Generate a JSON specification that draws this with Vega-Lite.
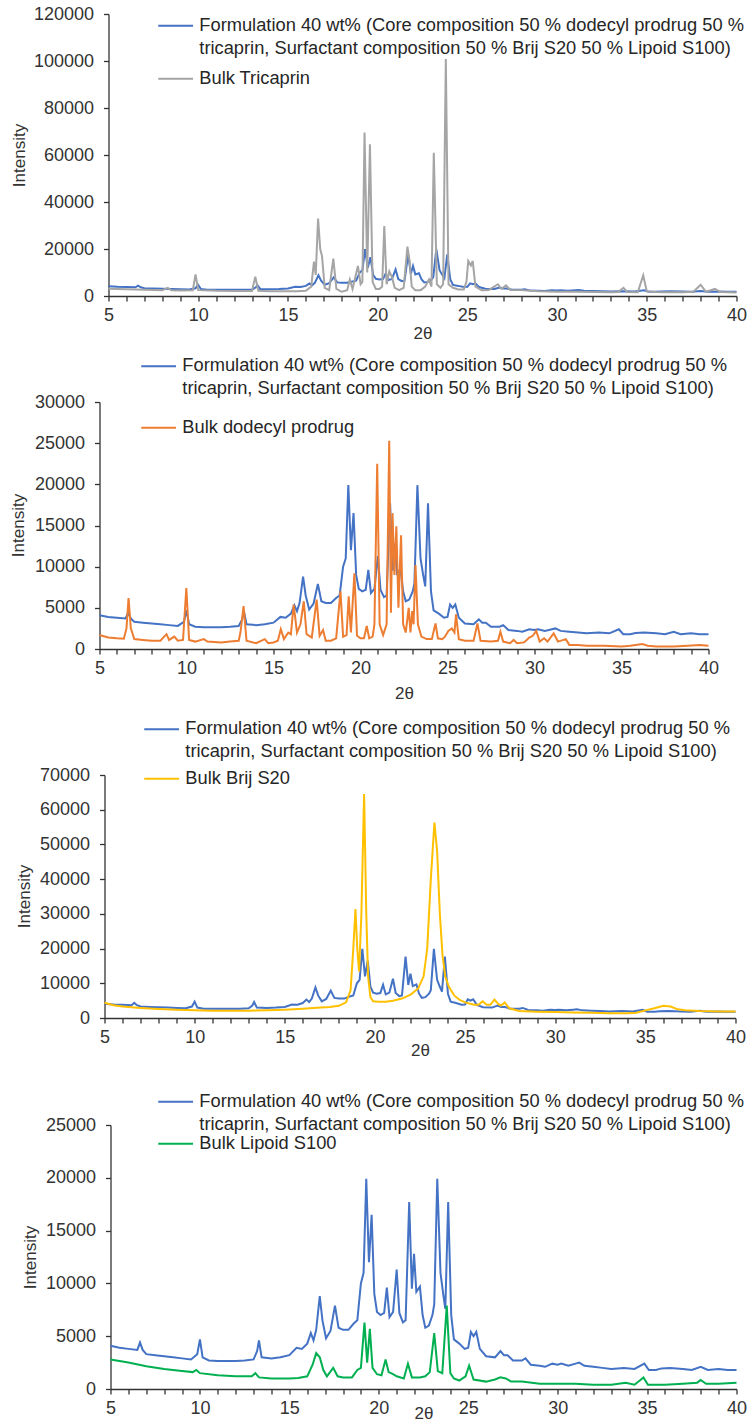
{
"$schema": "https://vega.github.io/schema/vega-lite/v6.json",
"padding": {"left": 9.5, "top": 5, "right": 0, "bottom": 0},
"background": "white",
"config": {
 "view": {"stroke": null},
 "font": "Liberation Sans",
 "axis": {"labelFont": "Liberation Sans", "titleFont": "Liberation Sans", "labelFontSize": 18, "titleFontSize": 17, "titleFontWeight": "normal", "labelColor": "#333333", "titleColor": "#333333", "domainColor": "#333333", "tickColor": "#333333", "grid": false, "tickSize": 5, "domainWidth": 1.3, "tickWidth": 1.3, "labelFlush": false, "labelOverlap": false},
 "legend": {"symbolType": "M-2.9,0H2.9", "symbolSize": 144, "symbolStrokeWidth": 2.5, "labelFont": "Liberation Sans", "labelFontSize": 18.3, "labelColor": "#262626", "labelLimit": 0, "padding": 0, "labelOffset": 14.5, "rowPadding": 4, "orient": "none"},
 "line": {"strokeWidth": 2}
},
"datasets": {
 "form": [{"t":5,"i":4100},{"t":5.5,"i":3900},{"t":6,"i":3800},{"t":6.5,"i":3700},{"t":6.65,"i":4400},{"t":6.8,"i":3700},{"t":7,"i":3300},{"t":7.5,"i":3200},{"t":8,"i":3100},{"t":8.5,"i":3000},{"t":9,"i":2900},{"t":9.5,"i":2800},{"t":9.85,"i":3300},{"t":10,"i":4700},{"t":10.15,"i":3000},{"t":10.5,"i":2700},{"t":11,"i":2650},{"t":11.5,"i":2650},{"t":12,"i":2650},{"t":12.5,"i":2700},{"t":13,"i":2800},{"t":13.2,"i":3600},{"t":13.3,"i":4600},{"t":13.45,"i":3000},{"t":14,"i":2900},{"t":14.5,"i":3000},{"t":15,"i":3200},{"t":15.4,"i":3900},{"t":15.7,"i":3800},{"t":16,"i":4300},{"t":16.2,"i":5300},{"t":16.35,"i":4600},{"t":16.5,"i":5600},{"t":16.7,"i":8800},{"t":16.85,"i":6500},{"t":17.05,"i":4800},{"t":17.3,"i":5500},{"t":17.55,"i":7900},{"t":17.75,"i":5800},{"t":18,"i":5600},{"t":18.3,"i":5600},{"t":18.6,"i":6200},{"t":18.8,"i":6500},{"t":19,"i":10000},{"t":19.15,"i":11000},{"t":19.3,"i":19900},{"t":19.45,"i":12000},{"t":19.6,"i":16500},{"t":19.75,"i":9000},{"t":19.9,"i":7300},{"t":20.1,"i":7000},{"t":20.3,"i":7200},{"t":20.45,"i":9600},{"t":20.6,"i":6800},{"t":20.8,"i":7300},{"t":21.0,"i":11300},{"t":21.15,"i":7200},{"t":21.35,"i":6300},{"t":21.5,"i":6500},{"t":21.7,"i":17700},{"t":21.85,"i":9500},{"t":21.97,"i":12800},{"t":22.1,"i":9200},{"t":22.3,"i":9700},{"t":22.45,"i":7000},{"t":22.6,"i":5800},{"t":22.8,"i":6000},{"t":23.0,"i":7000},{"t":23.1,"i":8000},{"t":23.27,"i":19900},{"t":23.45,"i":11000},{"t":23.6,"i":9000},{"t":23.72,"i":7600},{"t":23.88,"i":17700},{"t":24.05,"i":7000},{"t":24.2,"i":4700},{"t":24.5,"i":4300},{"t":24.8,"i":3800},{"t":25.0,"i":3900},{"t":25.15,"i":5400},{"t":25.3,"i":5000},{"t":25.45,"i":5400},{"t":25.65,"i":3800},{"t":26,"i":3100},{"t":26.5,"i":3000},{"t":26.8,"i":3600},{"t":27.0,"i":3200},{"t":27.2,"i":3200},{"t":27.5,"i":2700},{"t":28.0,"i":2700},{"t":28.2,"i":2900},{"t":28.5,"i":2300},{"t":29,"i":2200},{"t":29.3,"i":2100},{"t":29.7,"i":2400},{"t":30.0,"i":2300},{"t":30.2,"i":2400},{"t":30.6,"i":2200},{"t":31.0,"i":2400},{"t":31.2,"i":2500},{"t":31.5,"i":2200},{"t":32,"i":2100},{"t":32.5,"i":2000},{"t":33,"i":1900},{"t":33.7,"i":2000},{"t":34.3,"i":1900},{"t":34.85,"i":2400},{"t":35.1,"i":1800},{"t":35.5,"i":1800},{"t":35.8,"i":1950},{"t":36.3,"i":2000},{"t":37,"i":1900},{"t":37.5,"i":1800},{"t":38,"i":2100},{"t":38.4,"i":1800},{"t":39,"i":1900},{"t":39.5,"i":1800},{"t":40,"i":1800}],
 "tri": [{"t":5,"i":3100},{"t":6,"i":2900},{"t":7,"i":2700},{"t":8,"i":2500},{"t":8.3,"i":3500},{"t":8.5,"i":2400},{"t":9,"i":2300},{"t":9.7,"i":2400},{"t":9.85,"i":9200},{"t":10.0,"i":2500},{"t":11,"i":2200},{"t":12,"i":2100},{"t":13,"i":2100},{"t":13.18,"i":8200},{"t":13.35,"i":2200},{"t":14,"i":2000},{"t":15,"i":2000},{"t":15.5,"i":2000},{"t":16,"i":2200},{"t":16.3,"i":4000},{"t":16.45,"i":14600},{"t":16.55,"i":9000},{"t":16.68,"i":33000},{"t":16.8,"i":20000},{"t":16.9,"i":17000},{"t":17.05,"i":3500},{"t":17.3,"i":2500},{"t":17.53,"i":15900},{"t":17.7,"i":3000},{"t":18,"i":1800},{"t":18.3,"i":2500},{"t":18.45,"i":7000},{"t":18.6,"i":3000},{"t":18.9,"i":12800},{"t":19.05,"i":5000},{"t":19.15,"i":6000},{"t":19.27,"i":69600},{"t":19.42,"i":10000},{"t":19.57,"i":64600},{"t":19.72,"i":6000},{"t":19.9,"i":3000},{"t":20.1,"i":3000},{"t":20.25,"i":4000},{"t":20.37,"i":29800},{"t":20.5,"i":5000},{"t":20.65,"i":10500},{"t":20.8,"i":8000},{"t":20.95,"i":3500},{"t":21.2,"i":2500},{"t":21.45,"i":3500},{"t":21.66,"i":21000},{"t":21.78,"i":15000},{"t":21.9,"i":4000},{"t":22.1,"i":2500},{"t":22.4,"i":2500},{"t":22.65,"i":4000},{"t":22.86,"i":7000},{"t":23.0,"i":4000},{"t":23.13,"i":61000},{"t":23.3,"i":5000},{"t":23.5,"i":3500},{"t":23.65,"i":5000},{"t":23.8,"i":100800},{"t":23.95,"i":5000},{"t":24.2,"i":3500},{"t":24.5,"i":2800},{"t":24.8,"i":2800},{"t":24.95,"i":6000},{"t":25.05,"i":14900},{"t":25.2,"i":13000},{"t":25.3,"i":14900},{"t":25.45,"i":4000},{"t":25.8,"i":2500},{"t":26.2,"i":2600},{"t":26.7,"i":5000},{"t":26.9,"i":3000},{"t":27.15,"i":4500},{"t":27.4,"i":2600},{"t":28,"i":2500},{"t":28.5,"i":2200},{"t":29,"i":2000},{"t":30,"i":1800},{"t":31,"i":1800},{"t":32,"i":1700},{"t":33,"i":1600},{"t":33.4,"i":1700},{"t":33.7,"i":3500},{"t":33.9,"i":1700},{"t":34.5,"i":1600},{"t":34.8,"i":8800},{"t":35.0,"i":2000},{"t":35.5,"i":1700},{"t":36,"i":1600},{"t":37,"i":1600},{"t":37.6,"i":1800},{"t":38,"i":4800},{"t":38.3,"i":1800},{"t":38.8,"i":3000},{"t":39.1,"i":1700},{"t":40,"i":1500}],
 "dod": [{"t":5,"i":1700},{"t":5.5,"i":1400},{"t":6,"i":1300},{"t":6.4,"i":1250},{"t":6.55,"i":2500},{"t":6.67,"i":6200},{"t":6.8,"i":2500},{"t":7,"i":1200},{"t":7.5,"i":1100},{"t":8,"i":1000},{"t":8.5,"i":1000},{"t":8.85,"i":1800},{"t":9.0,"i":1100},{"t":9.3,"i":1500},{"t":9.5,"i":1000},{"t":9.8,"i":1100},{"t":9.99,"i":7400},{"t":10.15,"i":1100},{"t":10.5,"i":900},{"t":11,"i":1200},{"t":11.2,"i":900},{"t":12,"i":800},{"t":12.5,"i":900},{"t":13.0,"i":1000},{"t":13.1,"i":2000},{"t":13.28,"i":5200},{"t":13.45,"i":1000},{"t":14,"i":700},{"t":14.5,"i":1200},{"t":14.7,"i":700},{"t":15,"i":800},{"t":15.25,"i":1000},{"t":15.42,"i":2400},{"t":15.6,"i":1200},{"t":15.85,"i":2000},{"t":16.0,"i":1800},{"t":16.16,"i":5400},{"t":16.35,"i":2000},{"t":16.55,"i":3000},{"t":16.74,"i":5800},{"t":16.9,"i":1800},{"t":17.2,"i":1400},{"t":17.48,"i":6000},{"t":17.65,"i":1600},{"t":17.85,"i":2300},{"t":18.0,"i":1000},{"t":18.3,"i":1000},{"t":18.6,"i":1300},{"t":18.85,"i":7000},{"t":19.0,"i":1500},{"t":19.2,"i":1700},{"t":19.32,"i":6400},{"t":19.45,"i":2000},{"t":19.65,"i":9200},{"t":19.8,"i":1600},{"t":20.0,"i":1300},{"t":20.2,"i":1300},{"t":20.36,"i":2800},{"t":20.5,"i":1300},{"t":20.7,"i":1500},{"t":20.8,"i":3000},{"t":20.96,"i":22500},{"t":21.1,"i":3000},{"t":21.3,"i":1700},{"t":21.5,"i":3000},{"t":21.65,"i":25300},{"t":21.75,"i":4400},{"t":21.84,"i":16500},{"t":21.95,"i":9000},{"t":22.06,"i":14900},{"t":22.18,"i":5000},{"t":22.33,"i":13800},{"t":22.45,"i":3000},{"t":22.6,"i":2000},{"t":22.77,"i":5000},{"t":22.87,"i":2000},{"t":22.97,"i":4600},{"t":23.05,"i":3000},{"t":23.16,"i":10200},{"t":23.3,"i":3000},{"t":23.5,"i":1500},{"t":23.8,"i":1200},{"t":24.1,"i":1200},{"t":24.31,"i":3100},{"t":24.45,"i":1300},{"t":24.7,"i":1200},{"t":24.85,"i":1500},{"t":25.05,"i":2200},{"t":25.25,"i":2500},{"t":25.4,"i":2000},{"t":25.49,"i":4200},{"t":25.65,"i":1200},{"t":26,"i":1000},{"t":26.5,"i":1000},{"t":26.72,"i":3100},{"t":26.9,"i":1000},{"t":27.5,"i":900},{"t":27.9,"i":1000},{"t":28.04,"i":2100},{"t":28.2,"i":900},{"t":28.6,"i":700},{"t":28.8,"i":1100},{"t":29.0,"i":700},{"t":29.4,"i":800},{"t":29.7,"i":1400},{"t":29.9,"i":1600},{"t":30.1,"i":2200},{"t":30.3,"i":900},{"t":30.55,"i":1300},{"t":30.75,"i":900},{"t":31.1,"i":1900},{"t":31.35,"i":900},{"t":31.8,"i":1200},{"t":32.0,"i":500},{"t":32.5,"i":500},{"t":33,"i":400},{"t":34,"i":400},{"t":35,"i":300},{"t":35.5,"i":400},{"t":36.2,"i":600},{"t":36.5,"i":400},{"t":37,"i":300},{"t":38,"i":300},{"t":38.8,"i":400},{"t":39.5,"i":500},{"t":40,"i":400}],
 "brij": [{"t":5,"i":4400},{"t":5.5,"i":3700},{"t":6,"i":3300},{"t":7,"i":2900},{"t":8,"i":2600},{"t":9,"i":2400},{"t":10,"i":2200},{"t":11,"i":2100},{"t":12,"i":2100},{"t":13,"i":2100},{"t":14,"i":2200},{"t":15,"i":2400},{"t":16,"i":2700},{"t":17,"i":3000},{"t":17.5,"i":3200},{"t":18,"i":3500},{"t":18.4,"i":4500},{"t":18.65,"i":8000},{"t":18.8,"i":20000},{"t":18.92,"i":31400},{"t":19.02,"i":20000},{"t":19.12,"i":13400},{"t":19.25,"i":30000},{"t":19.4,"i":64500},{"t":19.52,"i":30000},{"t":19.62,"i":12000},{"t":19.75,"i":6000},{"t":19.9,"i":4800},{"t":20.2,"i":4700},{"t":20.6,"i":4700},{"t":21,"i":5000},{"t":21.5,"i":5600},{"t":22,"i":6800},{"t":22.4,"i":8500},{"t":22.7,"i":12000},{"t":22.9,"i":20000},{"t":23.1,"i":40000},{"t":23.3,"i":56300},{"t":23.45,"i":48000},{"t":23.6,"i":30000},{"t":23.75,"i":18000},{"t":23.9,"i":12000},{"t":24.1,"i":9000},{"t":24.4,"i":6500},{"t":24.7,"i":5200},{"t":25,"i":4500},{"t":25.5,"i":3800},{"t":25.75,"i":3800},{"t":25.97,"i":4800},{"t":26.2,"i":3800},{"t":26.4,"i":3800},{"t":26.63,"i":5300},{"t":26.85,"i":4000},{"t":27.0,"i":3600},{"t":27.2,"i":4500},{"t":27.45,"i":2800},{"t":28,"i":2000},{"t":29,"i":1800},{"t":30,"i":1700},{"t":31,"i":1600},{"t":32,"i":1500},{"t":33,"i":1400},{"t":34,"i":1400},{"t":34.5,"i":1500},{"t":35,"i":2200},{"t":35.5,"i":2800},{"t":36.0,"i":3500},{"t":36.4,"i":3300},{"t":36.8,"i":2500},{"t":37.2,"i":2200},{"t":38,"i":2000},{"t":39,"i":1900},{"t":40,"i":1900}],
 "lip": [{"t":5,"i":2800},{"t":6,"i":2500},{"t":7,"i":2150},{"t":8,"i":1900},{"t":9,"i":1700},{"t":9.6,"i":1600},{"t":9.8,"i":1800},{"t":10.0,"i":1500},{"t":11,"i":1300},{"t":12,"i":1200},{"t":12.9,"i":1200},{"t":13.1,"i":1500},{"t":13.3,"i":1100},{"t":14,"i":1000},{"t":15,"i":1000},{"t":15.5,"i":1050},{"t":16,"i":1200},{"t":16.3,"i":2300},{"t":16.5,"i":3400},{"t":16.7,"i":3000},{"t":16.9,"i":1800},{"t":17.1,"i":1200},{"t":17.45,"i":2000},{"t":17.7,"i":1200},{"t":18,"i":1100},{"t":18.5,"i":1100},{"t":18.8,"i":1800},{"t":19.0,"i":2000},{"t":19.2,"i":6300},{"t":19.35,"i":2500},{"t":19.5,"i":5700},{"t":19.65,"i":2000},{"t":19.9,"i":1400},{"t":20.15,"i":1300},{"t":20.38,"i":2800},{"t":20.55,"i":1600},{"t":20.8,"i":1400},{"t":21.0,"i":1200},{"t":21.4,"i":1000},{"t":21.63,"i":2400},{"t":21.85,"i":1100},{"t":22.3,"i":1100},{"t":22.6,"i":1200},{"t":22.85,"i":1600},{"t":23.1,"i":5300},{"t":23.3,"i":1700},{"t":23.55,"i":1500},{"t":23.8,"i":7900},{"t":24.0,"i":1500},{"t":24.2,"i":1000},{"t":24.5,"i":800},{"t":24.85,"i":1200},{"t":25.05,"i":2200},{"t":25.3,"i":900},{"t":26,"i":700},{"t":26.5,"i":900},{"t":26.8,"i":1100},{"t":27.1,"i":1000},{"t":27.4,"i":700},{"t":28,"i":700},{"t":29,"i":500},{"t":30,"i":500},{"t":31,"i":500},{"t":32,"i":400},{"t":33,"i":400},{"t":33.8,"i":600},{"t":34.3,"i":400},{"t":34.8,"i":1100},{"t":35.05,"i":400},{"t":36,"i":400},{"t":37,"i":500},{"t":37.8,"i":600},{"t":38,"i":850},{"t":38.3,"i":500},{"t":39,"i":500},{"t":40,"i":600}]
},
"columns": 1, "align": "none", "spacing": 34,
"resolve": {"scale": {"x": "independent", "y": "independent", "color": "independent", "stroke": "independent"}, "axis": {"x": "independent", "y": "independent"}, "legend": {"color": "independent", "stroke": "independent"}},
"concat": [
 {"columns": 1, "align": "none", "spacing": 19,
  "resolve": {"scale": {"x": "independent", "y": "independent", "color": "independent", "stroke": "independent"}, "axis": {"x": "independent", "y": "independent"}, "legend": {"color": "independent", "stroke": "independent"}},
  "concat": [
   {"columns": 1, "align": "none", "spacing": 16,
    "resolve": {"scale": {"x": "independent", "y": "independent", "color": "independent", "stroke": "independent"}, "axis": {"x": "independent", "y": "independent"}, "legend": {"color": "independent", "stroke": "independent"}},
    "concat": [
     {"width": 637, "height": 282,
      "encoding": {
       "x": {"field": "t", "type": "quantitative", "title": "2θ", "scale": {"domain": [5, 40], "nice": false, "range": [9, 637]}, "axis": {"values": [5,6,7,8,9,10,11,12,13,14,15,16,17,18,19,20,21,22,23,24,25,26,27,28,29,30,31,32,33,34,35,36,37,38,39,40], "labelExpr": "datum.value % 5 == 0 ? datum.label : ''", "labelOverlap": false, "labelPadding": 5, "titleY": 37, "titleBaseline": "middle"}},
       "y": {"field": "i", "type": "quantitative", "title": "Intensity", "scale": {"domain": [0, 120000], "nice": false}, "axis": {"values": [0,20000,40000,60000,80000,100000,120000], "format": "d", "labelOverlap": false, "offset": -9, "labelPadding": 10, "titleX": -89, "titleY": 141, "titleBaseline": "middle"}}
      },
      "layer": [
       {"data": {"name": "form"}, "mark": {"type": "line"},
        "encoding": {
         "color": {"datum": "Formulation 40 wt% (Core composition 50 % dodecyl prodrug 50 %", "type": "nominal", "scale": {"domain": ["Formulation 40 wt% (Core composition 50 % dodecyl prodrug 50 %", "tricaprin, Surfactant composition 50 % Brij S20 50 % Lipoid S100)"], "range": ["#4472C4", "transparent"]}, "legend": {"title": null, "legendX": 67, "legendY": 2.5}}
        }},
       {"data": {"name": "tri"}, "mark": {"type": "line"},
        "encoding": {
         "stroke": {"datum": "Bulk Tricaprin", "type": "nominal", "scale": {"domain": ["Bulk Tricaprin"], "range": ["#A5A5A5"]}, "legend": {"title": null, "legendX": 67, "legendY": 55.5}}
        }}
      ]},
     {"width": 609, "height": 247,
      "encoding": {
       "x": {"field": "t", "type": "quantitative", "title": "2θ", "scale": {"domain": [5, 40], "nice": false, "range": [0, 609]}, "axis": {"values": [5,6,7,8,9,10,11,12,13,14,15,16,17,18,19,20,21,22,23,24,25,26,27,28,29,30,31,32,33,34,35,36,37,38,39,40], "labelExpr": "datum.value % 5 == 0 ? datum.label : ''", "labelOverlap": false, "labelPadding": 5, "titleY": 44, "titleBaseline": "middle"}},
       "y": {"field": "i", "type": "quantitative", "title": "Intensity", "scale": {"domain": [0, 30000], "nice": false}, "axis": {"values": [0,5000,10000,15000,20000,25000,30000], "format": "d", "labelOverlap": false, "offset": 0, "labelPadding": 10, "titleX": -81, "titleY": 123, "titleBaseline": "middle"}}
      },
      "layer": [
       {"data": {"name": "form"}, "mark": {"type": "line"},
        "encoding": {
         "color": {"datum": "Formulation 40 wt% (Core composition 50 % dodecyl prodrug 50 %", "type": "nominal", "scale": {"domain": ["Formulation 40 wt% (Core composition 50 % dodecyl prodrug 50 %", "tricaprin, Surfactant composition 50 % Brij S20 50 % Lipoid S100)"], "range": ["#4472C4", "transparent"]}, "legend": {"title": null, "legendX": 50, "legendY": -45}}
        }},
       {"data": {"name": "dod"}, "mark": {"type": "line"},
        "encoding": {
         "stroke": {"datum": "Bulk dodecyl prodrug", "type": "nominal", "scale": {"domain": ["Bulk dodecyl prodrug"], "range": ["#ED7D31"]}, "legend": {"title": null, "legendX": 50, "legendY": 16.5}}
        }}
      ]}
    ]},
   {"width": 636, "height": 243,
    "encoding": {
     "x": {"field": "t", "type": "quantitative", "title": "2θ", "scale": {"domain": [5, 40], "nice": false, "range": [5, 636]}, "axis": {"values": [5,6,7,8,9,10,11,12,13,14,15,16,17,18,19,20,21,22,23,24,25,26,27,28,29,30,31,32,33,34,35,36,37,38,39,40], "labelExpr": "datum.value % 5 == 0 ? datum.label : ''", "labelOverlap": false, "labelPadding": 5, "titleY": 32, "titleBaseline": "middle"}},
     "y": {"field": "i", "type": "quantitative", "title": "Intensity", "scale": {"domain": [0, 70000], "nice": false}, "axis": {"values": [0,10000,20000,30000,40000,50000,60000,70000], "format": "d", "labelOverlap": false, "offset": -5, "labelPadding": 10, "titleX": -80, "titleY": 121, "titleBaseline": "middle"}}
    },
    "layer": [
     {"data": {"name": "form"}, "mark": {"type": "line"},
      "encoding": {
       "color": {"datum": "Formulation 40 wt% (Core composition 50 % dodecyl prodrug 50 %", "type": "nominal", "scale": {"domain": ["Formulation 40 wt% (Core composition 50 % dodecyl prodrug 50 %", "tricaprin, Surfactant composition 50 % Brij S20 50 % Lipoid S100)"], "range": ["#4472C4", "transparent"]}, "legend": {"title": null, "legendX": 53, "legendY": -55}}
      }},
     {"data": {"name": "brij"}, "mark": {"type": "line"},
      "encoding": {
       "stroke": {"datum": "Bulk Brij S20", "type": "nominal", "scale": {"domain": ["Bulk Brij S20"], "range": ["#FFC000"]}, "legend": {"title": null, "legendX": 53, "legendY": -5.5}}
      }}
    ]}
  ]},
 {"width": 637, "height": 264,
  "encoding": {
   "x": {"field": "t", "type": "quantitative", "title": "2θ", "scale": {"domain": [5, 40], "nice": false, "range": [11, 637]}, "axis": {"values": [5,6,7,8,9,10,11,12,13,14,15,16,17,18,19,20,21,22,23,24,25,26,27,28,29,30,31,32,33,34,35,36,37,38,39,40], "labelExpr": "datum.value % 5 == 0 ? datum.label : ''", "labelOverlap": false, "labelPadding": 5, "titleY": 24, "titleBaseline": "middle"}},
   "y": {"field": "i", "type": "quantitative", "title": "Intensity", "scale": {"domain": [0, 25000], "nice": false}, "axis": {"values": [0,5000,10000,15000,20000,25000], "format": "d", "labelOverlap": false, "offset": -11, "labelPadding": 10, "titleX": -80, "titleY": 132, "titleBaseline": "middle"}}
  },
  "layer": [
   {"data": {"name": "form"}, "mark": {"type": "line"},
    "encoding": {
     "color": {"datum": "Formulation 40 wt% (Core composition 50 % dodecyl prodrug 50 %", "type": "nominal", "scale": {"domain": ["Formulation 40 wt% (Core composition 50 % dodecyl prodrug 50 %", "tricaprin, Surfactant composition 50 % Brij S20 50 % Lipoid S100)"], "range": ["#4472C4", "transparent"]}, "legend": {"title": null, "legendX": 67, "legendY": -32.5}}
    }},
   {"data": {"name": "lip"}, "mark": {"type": "line"},
    "encoding": {
     "stroke": {"datum": "Bulk Lipoid S100", "type": "nominal", "scale": {"domain": ["Bulk Lipoid S100"], "range": ["#00B050"]}, "legend": {"title": null, "legendX": 67, "legendY": 9.5}}
    }}
  ]}
]
}
